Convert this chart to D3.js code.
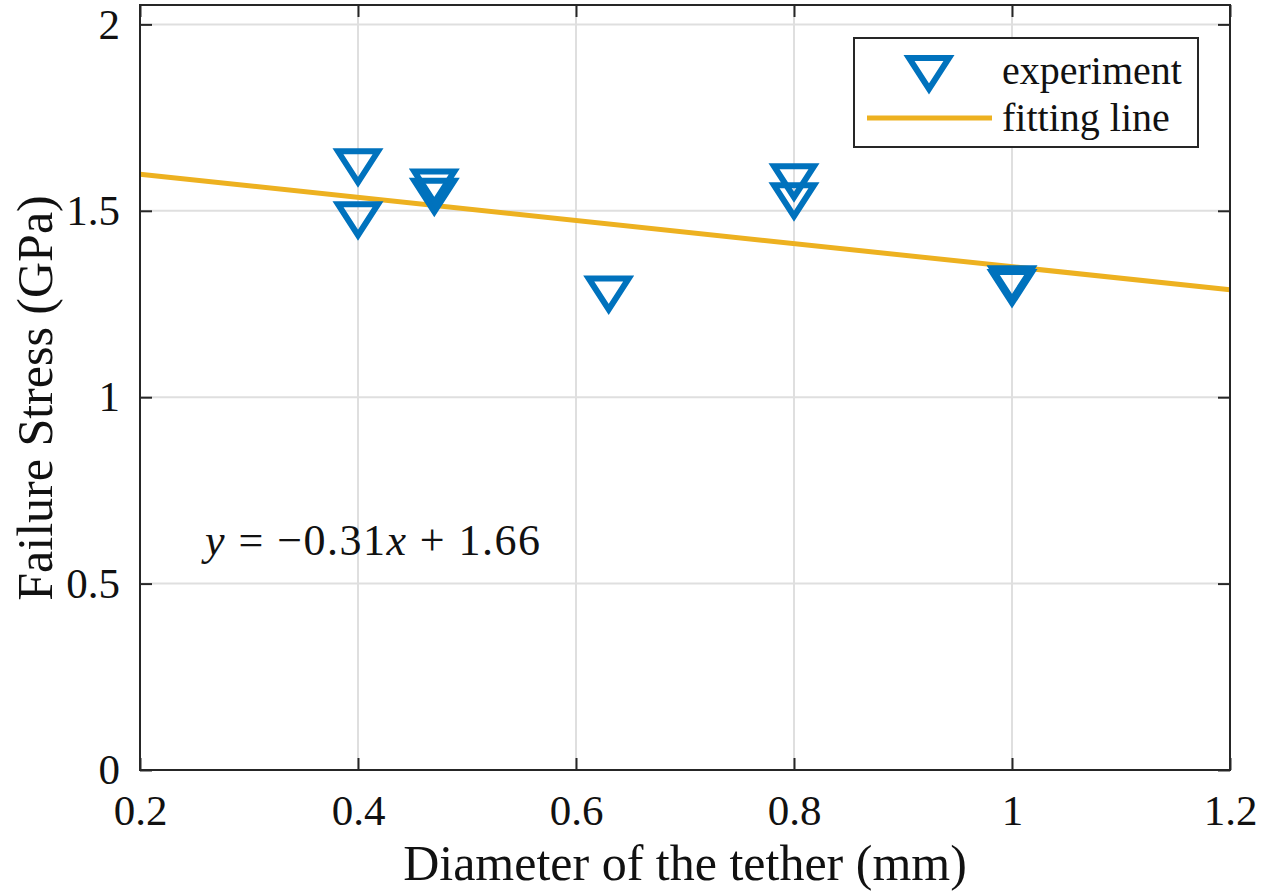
<!DOCTYPE html>
<html>
<head>
<meta charset="utf-8">
<script src="https://cdn.jsdelivr.net/npm/d3@7"></script>
<style>
  body { margin: 0; background: #fff; }
  svg text { font-family: "Liberation Serif", "Times New Roman", serif; fill: #111; }
</style>
</head>
<body>
<div id="chart"></div>
<script>
// Data
var diameter = [0.40, 0.40, 0.47, 0.47, 0.63, 0.80, 0.80, 1.00, 1.00];
var stress   = [1.614, 1.472, 1.56, 1.535, 1.273, 1.574, 1.523, 1.30, 1.29];
var fitSlope = -0.31;
var fitIntercept = 1.66;
var xTicks = [0.2, 0.4, 0.6, 0.8, 1, 1.2];
var yTicks = [0, 0.5, 1, 1.5, 2];
var legendLabels = ["experiment", "fitting line"];

var blue = "#0072BD";
var orange = "#EDB120";
var axisColor = "#262626";

// Margins (pixel frame)
var margin = {top: 5, right: 33, bottom: 123, left: 140};
var W = 1263, H = 893;
var width = W - margin.left - margin.right;
var height = H - margin.top - margin.bottom;

var xScale = d3.scaleLinear().domain([0.2, 1.2]).range([0, width]);
var yScale = d3.scaleLinear().domain([0, 2.052]).range([height, 0]);

var svg = d3.select("#chart").append("svg")
  .attr("width", W)
  .attr("height", H);

var g = svg.append("g")
  .attr("transform", `translate(${margin.left},${margin.top})`);

// Grid
g.append("g").selectAll("line.gx")
  .data(xTicks).enter().append("line")
  .attr("x1", d => xScale(d)).attr("x2", d => xScale(d))
  .attr("y1", 0).attr("y2", height)
  .attr("stroke", "#dfdfdf").attr("stroke-width", 2);
g.append("g").selectAll("line.gy")
  .data(yTicks).enter().append("line")
  .attr("x1", 0).attr("x2", width)
  .attr("y1", d => yScale(d)).attr("y2", d => yScale(d))
  .attr("stroke", "#dfdfdf").attr("stroke-width", 2);

// Axes (inward ticks, on all four sides)
var tickLen = 12;
var xAxis = g.append("g")
  .attr("transform", "translate(0," + height + ")")
  .call(d3.axisBottom(xScale).tickValues(xTicks).tickSizeInner(-tickLen).tickSizeOuter(0).tickPadding(24).tickFormat(d3.format("")));
var yAxis = g.append("g")
  .call(d3.axisLeft(yScale).tickValues(yTicks).tickSizeInner(-tickLen).tickSizeOuter(0).tickPadding(20).tickFormat(d3.format("")));
g.append("g")
  .call(d3.axisTop(xScale).tickValues(xTicks).tickSizeInner(-tickLen).tickSizeOuter(0).tickFormat(""));
g.append("g")
  .attr("transform", "translate(" + width + ",0)")
  .call(d3.axisRight(yScale).tickValues(yTicks).tickSizeInner(-tickLen).tickSizeOuter(0).tickFormat(""));

g.selectAll(".domain").remove();
g.selectAll(".tick line").attr("stroke", axisColor).attr("stroke-width", 2);
xAxis.selectAll(".tick text").attr("font-size", 43).attr("font-family", "Liberation Serif").attr("fill", "#222");
yAxis.selectAll(".tick text").attr("font-size", 43).attr("font-family", "Liberation Serif").attr("fill", "#222");

// Fitting line
var fitLine = d3.line()
  .x(d => xScale(d))
  .y(d => yScale(fitSlope * d + fitIntercept));
g.append("path")
  .datum(xScale.domain())
  .attr("d", fitLine)
  .attr("fill", "none")
  .attr("stroke", orange)
  .attr("stroke-width", 5);

// Markers
var tri = "M-20,-17L20,-17L0,14Z";
g.selectAll("path.pt")
  .data(diameter).enter().append("path")
  .attr("class", "pt")
  .attr("d", tri)
  .attr("transform", (d, i) => `translate(${xScale(d)},${yScale(stress[i])})`)
  .attr("fill", "none")
  .attr("stroke", blue)
  .attr("stroke-width", 6)
  .attr("stroke-linejoin", "miter");

// Frame
g.append("rect")
  .attr("x", 0).attr("y", 0)
  .attr("width", width).attr("height", height)
  .attr("fill", "none")
  .attr("stroke", axisColor)
  .attr("stroke-width", 2);

// Equation
var eq = g.append("text")
  .attr("x", 205 - margin.left)
  .attr("y", 555 - margin.top)
  .attr("font-size", 44)
  .attr("textLength", 335)
  .attr("lengthAdjust", "spacing");
eq.append("tspan").attr("font-style", "italic").text("y");
eq.append("tspan").text(" = \u22120.31");
eq.append("tspan").attr("font-style", "italic").text("x");
eq.append("tspan").text(" + 1.66");

// Legend
var leg = svg.append("g");
leg.append("rect")
  .attr("x", 854).attr("y", 38)
  .attr("width", 344).attr("height", 109)
  .attr("fill", "#fff")
  .attr("stroke", axisColor)
  .attr("stroke-width", 2);
leg.append("path")
  .attr("d", tri)
  .attr("transform", "translate(929,75)")
  .attr("fill", "none")
  .attr("stroke", blue)
  .attr("stroke-width", 6);
leg.append("line")
  .attr("x1", 867).attr("x2", 992)
  .attr("y1", 118).attr("y2", 118)
  .attr("stroke", orange)
  .attr("stroke-width", 5);
leg.selectAll("text.lg")
  .data(legendLabels).enter().append("text")
  .attr("x", 1002)
  .attr("y", (d, i) => 84 + i * 47)
  .attr("font-size", 40)
  .text(d => d);

// Axis titles
svg.append("text")
  .attr("x", margin.left + width / 2)
  .attr("y", 880)
  .attr("text-anchor", "middle")
  .attr("font-size", 50)
  .text("Diameter of the tether (mm)");
svg.append("text")
  .attr("transform", "translate(52,398) rotate(-90)")
  .attr("text-anchor", "middle")
  .attr("font-size", 50)
  .text("Failure Stress (GPa)");
</script>
</body>
</html>
